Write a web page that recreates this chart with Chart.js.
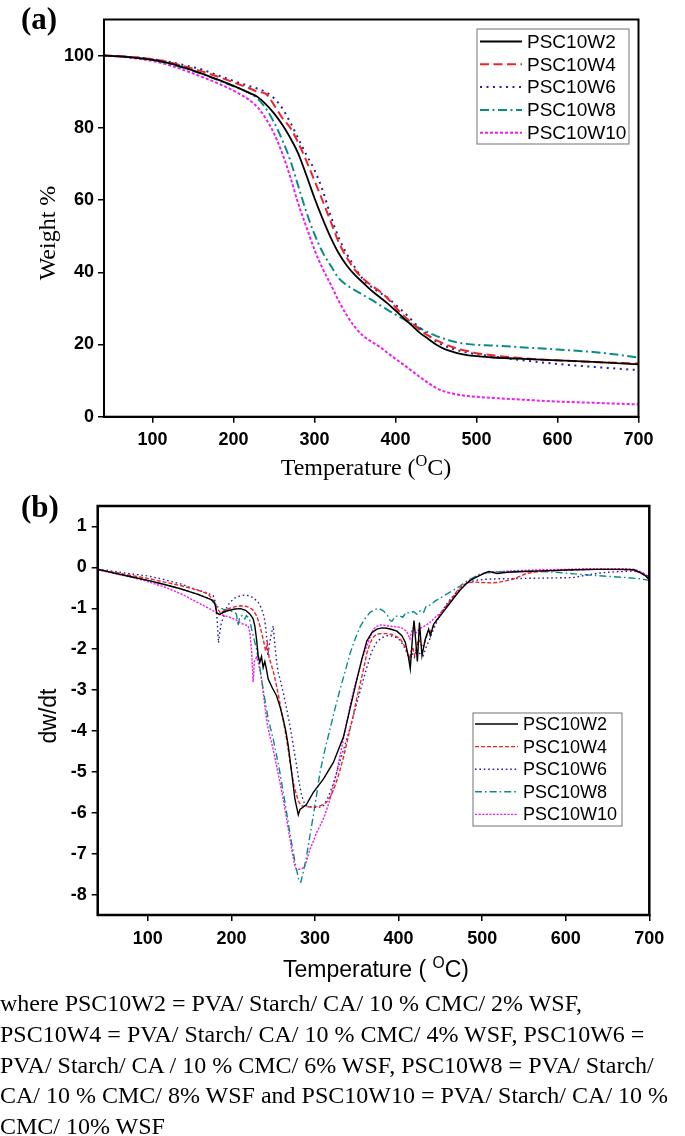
<!DOCTYPE html>
<html><head><meta charset="utf-8">
<script src="https://cdn.jsdelivr.net/npm/chart.js@4.4.1/dist/chart.umd.min.js"></script>
<style>
html,body{margin:0;padding:0;background:#fff;}
#wrap{position:relative;width:685px;height:1136px;overflow:hidden;background:#fff;}
canvas{position:absolute;left:0;}
.t{position:absolute;white-space:nowrap;color:#000;line-height:1;}
.panel{font-family:'Liberation Serif',serif;font-weight:bold;font-size:31px;}
.serif{font-family:'Liberation Serif',serif;font-size:24px;}
.sans{font-family:'Liberation Sans',Arial,sans-serif;font-size:23px;}
.ctr{transform:translate(-50%,-50%);}
.rot{transform:translate(-50%,-50%) rotate(-90deg);}
sup{font-size:0.68em;vertical-align:0.55em;line-height:0;}
#cap{position:absolute;left:0;top:988px;font-family:'Liberation Serif',serif;font-size:24px;line-height:30.8px;white-space:nowrap;color:#000;}
</style></head><body>
<div id="wrap">
<canvas id="ca" width="685" height="490" style="top:0"></canvas>
<canvas id="cb" width="685" height="500" style="top:490px"></canvas>
<div class="t panel" style="left:21px;top:3px">(a)</div>
<div class="t panel" style="left:21px;top:491px">(b)</div>
<div class="t serif rot" style="left:47px;top:233px">Weight %</div>
<div class="t serif ctr" style="left:366px;top:467px">Temperature (<sup>O</sup>C)</div>
<div class="t sans rot" style="left:48px;top:716px">dw/dt</div>
<div class="t sans ctr" style="left:376px;top:969px">Temperature ( <sup>O</sup>C)</div>
<div id="cap">where PSC10W2 = PVA/ Starch/ CA/ 10 % CMC/ 2% WSF,<br>PSC10W4 = PVA/ Starch/ CA/ 10 % CMC/ 4% WSF, PSC10W6 =<br>PVA/ Starch/ CA / 10 % CMC/ 6% WSF, PSC10W8 = PVA/ Starch/<br>CA/ 10 % CMC/ 8% WSF and PSC10W10 = PVA/ Starch/ CA/ 10 %<br>CMC/ 10% WSF</div>
</div>
<script>
// ---------------- DATA ----------------
const seriesNames = ['PSC10W2','PSC10W4','PSC10W6','PSC10W8','PSC10W10'];
const xTicks = [100,200,300,400,500,600,700];
const tgaYTicks = [0,20,40,60,80,100];
const dtgYTicks = [-8,-7,-6,-5,-4,-3,-2,-1,0,1];

// (a) TGA: temperature grid (°C) and weight %
const tgaTemp = [40,60,80,100,120,140,160,180,200,220,
  230,240,250,260,270,280,290,300,310,320,
  330,340,350,360,370,380,390,400,410,420,
  430,440,450,460,470,480,490,500,520,550,
  600,650,700];
const tgaW2 = [100,99.8,99.4,98.8,97.9,96.6,95.1,93.4,91.6,89.6,
  88.5,86.5,84.0,80.9,77.2,72.8,66.8,60.5,54.8,49.6,
  45.2,41.8,39.2,37.1,35.0,33.2,31.4,29.4,27.3,25.3,
  23.2,21.6,20.0,18.8,18.0,17.4,17.0,16.8,16.4,16.1,
  15.6,15.1,14.5];
const tgaW4 = [100,99.8,99.5,99.0,98.2,97.0,95.7,94.2,92.6,90.9,
  90.0,89.4,86.3,82.8,80.0,75.8,70.8,65.3,59.8,54.0,
  48.2,44.0,40.6,38.2,36.4,34.8,32.8,30.3,28.0,26.0,
  24.0,22.5,21.2,20.2,19.3,18.6,18.1,17.6,17.0,16.3,
  15.6,15.1,14.7];
const tgaW6 = [100,99.8,99.5,99.0,98.3,97.3,96.2,94.6,93.0,91.5,
  90.8,89.9,88.2,85.5,81.5,77.0,72.5,68.3,62.7,55.6,
  49.5,45.0,41.3,38.0,36.0,34.4,33.0,31.0,29.0,26.8,
  24.5,22.7,20.8,19.7,18.8,18.2,17.7,17.3,16.7,15.8,
  14.6,13.7,12.9];
const tgaW8 = [100,99.8,99.4,98.8,97.8,96.5,95.0,93.3,91.5,89.6,
  88.0,85.3,81.5,76.7,71.0,63.8,56.6,50.5,45.5,41.8,
  38.3,36.4,35.0,33.7,32.4,31.0,29.6,28.3,27.0,25.7,
  24.5,23.4,22.4,21.6,20.9,20.4,20.1,19.9,19.7,19.3,
  18.6,17.8,16.4];
const tgaW10 = [100,99.7,99.2,98.5,97.4,95.9,94.2,92.4,90.3,87.6,
  85.6,82.5,78.4,73.0,66.4,58.9,52.5,46.2,41.0,36.6,
  32.0,28.0,24.8,22.4,20.8,19.4,17.7,16.0,14.4,12.7,
  11.0,9.4,8.0,7.0,6.4,6.0,5.7,5.5,5.2,4.8,
  4.2,3.8,3.4];

// (b) DTG: [temperature °C, dw/dt]
const dtgW2 = [[40,-0.05],[60,-0.14],[80,-0.23],[100,-0.32],[120,-0.42],[140,-0.53],[160,-0.66],[175,-0.78],[180,-0.86],[182.5,-1.12],[186,-1.15],[192,-1.08],[198,-1.05],[204,-1.02],[211,-1.01],[217,-1.05],[222,-1.14],[226,-1.26],[228,-1.43],[230,-1.75],[232,-2.16],[234,-2.32],[236,-2.18],[238,-2.45],[240,-2.3],[242,-2.5],[244,-2.73],[249,-2.95],[254,-3.14],[258,-3.4],[262,-3.71],[265,-4.0],[268,-4.36],[272,-5.01],[276,-5.67],[280,-6.05],[282,-5.92],[286,-5.86],[290,-5.79],[298,-5.5],[310,-5.18],[322,-4.77],[334,-4.15],[342,-3.45],[350,-2.75],[356,-2.25],[362,-1.8],[368,-1.6],[374,-1.51],[380,-1.48],[386,-1.49],[392,-1.52],[398,-1.56],[404,-1.67],[408,-1.83],[411.5,-2.16],[414,-2.48],[416.5,-1.75],[418.5,-1.3],[421,-1.92],[422.5,-2.3],[425,-1.35],[428,-2.16],[432,-1.75],[436,-1.51],[438,-1.67],[442,-1.39],[446,-1.28],[450,-1.18],[456,-1.02],[462,-0.86],[468,-0.7],[474,-0.55],[480,-0.42],[486,-0.32],[492,-0.25],[498,-0.19],[504,-0.13],[508,-0.1],[512,-0.12],[518,-0.15],[530,-0.12],[550,-0.1],[580,-0.08],[610,-0.06],[640,-0.05],[670,-0.05],[682,-0.06],[690,-0.14],[695,-0.2],[700,-0.3]];
const dtgW4 = [[40,-0.05],[60,-0.12],[80,-0.2],[100,-0.27],[120,-0.36],[140,-0.45],[160,-0.56],[172,-0.65],[178,-0.8],[183,-1.0],[187,-1.12],[192,-1.05],[198,-1.0],[205,-0.96],[211,-0.94],[217,-0.95],[222,-0.98],[226,-1.05],[230,-1.18],[233,-1.35],[236,-1.59],[239,-1.85],[241,-2.05],[243,-1.85],[245,-2.2],[248,-2.4],[251,-2.62],[254,-2.9],[257,-3.2],[260,-3.55],[263,-3.85],[266,-4.2],[269,-4.6],[272,-5.01],[275,-5.35],[278,-5.58],[281,-5.75],[284,-5.83],[290,-5.85],[296,-5.86],[302,-5.85],[306,-5.83],[310,-5.8],[314,-5.74],[318,-5.62],[322,-5.45],[326,-5.22],[330,-4.95],[334,-4.65],[338,-4.3],[342,-3.95],[346,-3.6],[350,-3.2],[354,-2.85],[358,-2.5],[362,-2.1],[366,-1.85],[370,-1.7],[374,-1.63],[380,-1.62],[386,-1.62],[392,-1.64],[398,-1.7],[402,-1.75],[406,-1.88],[410,-2.05],[413,-2.25],[415,-2.05],[417,-1.95],[419,-2.15],[421,-2.0],[424,-1.75],[427,-1.9],[430,-1.92],[434,-1.65],[438,-1.58],[442,-1.42],[446,-1.28],[452,-1.1],[458,-0.92],[464,-0.75],[470,-0.58],[476,-0.45],[482,-0.38],[490,-0.36],[500,-0.37],[510,-0.38],[518,-0.37],[528,-0.33],[537,-0.29],[545,-0.22],[553,-0.15],[565,-0.11],[580,-0.09],[600,-0.07],[630,-0.05],[660,-0.05],[680,-0.07],[690,-0.13],[695,-0.2],[700,-0.3]];
const dtgW6 = [[40,-0.04],[60,-0.1],[80,-0.16],[100,-0.21],[120,-0.3],[140,-0.41],[156,-0.53],[170,-0.62],[178,-0.69],[181,-0.85],[183,-1.3],[184.5,-1.85],[186,-1.6],[188,-1.35],[191,-1.2],[194,-1.0],[198,-0.86],[204,-0.75],[210,-0.7],[215,-0.68],[220,-0.69],[226,-0.74],[232,-0.85],[236,-1.0],[239,-1.2],[241,-1.45],[242.5,-1.8],[243.5,-2.16],[245,-1.95],[247,-1.7],[250,-1.43],[252,-1.9],[254,-2.3],[256,-2.57],[259,-2.8],[262,-3.06],[266,-3.45],[270,-3.87],[274,-4.35],[278,-4.85],[281,-5.25],[284,-5.58],[287,-5.75],[290,-5.83],[296,-5.86],[302,-5.87],[306,-5.86],[310,-5.83],[314,-5.7],[318,-5.5],[322,-5.28],[326,-5.01],[332,-4.6],[338,-4.2],[344,-3.78],[350,-3.32],[356,-2.88],[362,-2.45],[368,-2.05],[374,-1.82],[380,-1.72],[386,-1.67],[392,-1.68],[398,-1.72],[402,-1.79],[406,-1.92],[410,-2.08],[413.5,-2.32],[416,-2.1],[419,-2.2],[421.5,-2.0],[425,-2.1],[429.5,-2.16],[433.5,-1.92],[437.5,-1.75],[441,-1.55],[445.5,-1.35],[449,-1.18],[453.5,-1.02],[461,-0.8],[469.5,-0.61],[477,-0.46],[485.5,-0.35],[495,-0.31],[505,-0.29],[520,-0.28],[549,-0.27],[580,-0.26],[609,-0.25],[622,-0.2],[633,-0.16],[645,-0.13],[657,-0.11],[670,-0.1],[680,-0.09],[690,-0.12],[696,-0.18],[700,-0.25]];
const dtgW8 = [[40,-0.05],[60,-0.14],[80,-0.23],[100,-0.32],[120,-0.42],[140,-0.53],[160,-0.66],[175,-0.77],[182,-0.95],[190,-1.02],[198,-1.06],[204,-1.1],[206,-1.14],[208,-1.43],[210,-1.2],[213,-1.18],[216,-1.26],[218,-1.18],[220,-1.22],[222,-1.28],[224,-1.5],[227,-1.75],[230,-2.0],[234,-2.45],[238,-2.98],[241,-3.35],[244,-3.71],[247,-3.95],[250,-4.2],[254,-4.6],[258,-5.01],[262,-5.5],[266,-5.99],[270,-6.5],[274,-6.97],[278,-7.4],[281,-7.68],[283,-7.7],[286,-7.45],[290,-7.05],[294,-6.55],[298,-6.07],[302,-5.55],[306,-5.01],[312,-4.45],[318,-3.95],[324,-3.45],[330,-2.98],[336,-2.55],[342,-2.1],[348,-1.75],[354,-1.45],[360,-1.25],[366,-1.1],[372,-1.03],[376,-1.0],[381,-1.05],[386,-1.15],[390,-1.3],[392,-1.32],[396,-1.2],[401,-1.18],[405,-1.22],[409,-1.1],[413,-1.12],[418,-1.08],[422,-1.15],[426,-1.06],[430,-1.1],[433,-0.95],[438,-0.92],[444,-0.82],[450,-0.75],[458,-0.65],[466,-0.55],[474,-0.45],[480,-0.36],[486,-0.29],[492,-0.22],[498,-0.16],[506,-0.13],[520,-0.11],[549,-0.1],[570,-0.1],[589,-0.12],[610,-0.16],[629,-0.19],[650,-0.22],[673,-0.25],[690,-0.28],[700,-0.32]];
const dtgW10 = [[40,-0.06],[60,-0.15],[80,-0.24],[97,-0.33],[120,-0.48],[140,-0.65],[156,-0.82],[170,-0.97],[178,-1.06],[185,-1.15],[192,-1.18],[198,-1.22],[205,-1.28],[210,-1.35],[215,-1.4],[220,-1.43],[222,-1.59],[224,-2.0],[226,-2.8],[227.5,-2.3],[230,-2.2],[232,-2.3],[234,-2.5],[236,-2.73],[238,-3.05],[240,-3.38],[242,-3.7],[244,-3.95],[248,-4.28],[251,-4.55],[254,-4.85],[258,-5.25],[262,-5.67],[266,-6.15],[270,-6.64],[273,-7.0],[276,-7.33],[278,-7.38],[282,-7.38],[285,-7.36],[288,-7.3],[291,-7.1],[294,-6.89],[298,-6.7],[302,-6.48],[306,-6.32],[310,-6.15],[314,-5.92],[318,-5.67],[322,-5.35],[326,-5.01],[330,-4.6],[334,-4.2],[338,-3.8],[342,-3.38],[347,-2.95],[352,-2.57],[357,-2.2],[362,-1.92],[366,-1.7],[370,-1.51],[374,-1.44],[378,-1.41],[384,-1.42],[390,-1.44],[396,-1.45],[402,-1.47],[406,-1.5],[410,-1.58],[413.5,-1.75],[416,-1.55],[418,-1.46],[421,-1.6],[425,-1.5],[430,-1.45],[437.5,-1.35],[444,-1.22],[450,-1.12],[456,-0.98],[462,-0.84],[468,-0.68],[474,-0.53],[480,-0.4],[486,-0.3],[492,-0.23],[498,-0.18],[505,-0.14],[515,-0.11],[540,-0.08],[569,-0.06],[600,-0.05],[629,-0.03],[650,-0.03],[669,-0.03],[682,-0.05],[689,-0.1],[695,-0.17],[700,-0.25]];

// ---------------- STYLES ----------------
const colors = ['#000000','#f02424','#23239e','#0a8c86','#f01cf0'];
const dashA = [[],[9,4.5],[2,4.5],[9,3.5,2,3.5],[3,2]];
const dashB = [[],[4,2],[1.6,2.8],[7,3,1.6,3],[2.2,1.4]];

const framePlugin = {
  id:'frame',
  afterDraw(chart, args, opts){
    const {ctx, chartArea:a} = chart;
    ctx.save();
    ctx.strokeStyle='#000'; ctx.lineWidth=opts.width||2;
    ctx.strokeRect(a.left, a.top, a.right-a.left, a.bottom-a.top);
    ctx.restore();
  }
};
const boxLegend = {
  id:'boxLegend',
  afterDraw(chart, args, o){
    const ctx = chart.ctx;
    ctx.save();
    ctx.fillStyle='#fff'; ctx.fillRect(o.x,o.y,o.w,o.h);
    ctx.strokeStyle='#8a8a8a'; ctx.lineWidth=1.2;
    ctx.strokeRect(o.x,o.y,o.w,o.h);
    chart.data.datasets.forEach((ds,i)=>{
      const cy = o.row0 + i*o.gap;
      ctx.beginPath();
      ctx.setLineDash(ds.borderDash||[]);
      ctx.strokeStyle=ds.borderColor; ctx.lineWidth=ds.borderWidth;
      ctx.moveTo(o.lx0,cy); ctx.lineTo(o.lx1,cy); ctx.stroke();
      ctx.setLineDash([]);
      ctx.fillStyle='#000'; ctx.font=o.font; ctx.textBaseline='middle'; ctx.textAlign='left';
      ctx.fillText(ds.label, o.tx, cy+1);
    });
    ctx.restore();
  }
};

function tickFilter(list){ return function(scale){ scale.ticks = list.map(v=>({value:v})); }; }

function axisX(height){
  return {type:'linear', min:40, max:700,
    afterBuildTicks: tickFilter(xTicks),
    afterFit: s=>{ s.height = height; },
    grid:{display:true, drawOnChartArea:false, drawTicks:true, tickLength:6, color:'#000', lineWidth:1.5},
    border:{display:true, color:'#000', width:2},
    ticks:{color:'#000', padding:7, font:{family:'Liberation Sans', weight:'bold', size:18}, maxRotation:0}
  };
}
function axisY(min,max,list,width,pad){
  return {type:'linear', min:min, max:max,
    afterBuildTicks: tickFilter(list),
    afterFit: s=>{ s.width = width; },
    grid:{display:true, drawOnChartArea:false, drawTicks:true, tickLength:6, color:'#000', lineWidth:1.5},
    border:{display:true, color:'#000', width:2},
    ticks:{color:'#000', padding:pad, font:{family:'Liberation Sans', weight:'bold', size:18}}
  };
}

const tgaSeries = [tgaW2,tgaW4,tgaW6,tgaW8,tgaW10];
const dsA = tgaSeries.map((arr,i)=>({
  label: seriesNames[i],
  data: tgaTemp.map((t,j)=>({x:t,y:arr[j]})),
  borderColor: colors[i], borderDash: dashA[i], borderWidth: i===0?1.8:2,
  pointRadius:0, fill:false, cubicInterpolationMode:'monotone'
}));
const dtgSeries = [dtgW2,dtgW4,dtgW6,dtgW8,dtgW10];
const dsB = dtgSeries.map((arr,i)=>({
  label: seriesNames[i],
  data: arr.map(p=>({x:p[0],y:p[1]})),
  borderColor: colors[i], borderDash: dashB[i], borderWidth: 1.4,
  pointRadius:0, fill:false, tension:0
}));

new Chart(document.getElementById('ca'), {
  type:'line',
  data:{datasets: dsA},
  options:{
    responsive:false, animation:false, devicePixelRatio:1,
    layout:{padding:{left:0, right:46.5, top:19.5, bottom:0}},
    scales:{ x: axisX(73.3), y: axisY(0,110,tgaYTicks,104,4) },
    plugins:{ legend:{display:false}, tooltip:{enabled:false},
      frame:{width:2},
      boxLegend:{x:477,y:29,w:152,h:115,row0:41.5,gap:22.8,lx0:480,lx1:522,tx:527,font:'19px "Liberation Sans"'} }
  },
  plugins:[framePlugin, boxLegend]
});

new Chart(document.getElementById('cb'), {
  type:'line',
  data:{datasets: dsB},
  options:{
    responsive:false, animation:false, devicePixelRatio:1,
    layout:{padding:{left:0, right:35.7, top:16, bottom:0}},
    scales:{ x: axisX(75), y: axisY(-8.5,1.5,dtgYTicks,97.7,5) },
    plugins:{ legend:{display:false}, tooltip:{enabled:false},
      frame:{width:2.5},
      boxLegend:{x:473,y:223,w:149,h:113,row0:234,gap:22.6,lx0:475,lx1:518,tx:523,font:'18px "Liberation Sans"'} }
  },
  plugins:[framePlugin, boxLegend]
});
</script>
</body></html>
